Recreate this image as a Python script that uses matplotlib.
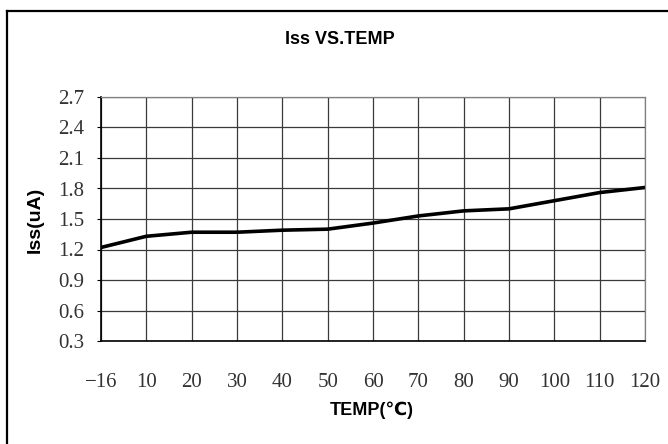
import matplotlib
matplotlib.use("Agg")
import matplotlib.pyplot as plt
from matplotlib.lines import Line2D

# data
temps = ["-16", "10", "20", "30", "40", "50", "60", "70", "80", "90", "100", "110", "120"]
iss = [1.22, 1.33, 1.37, 1.37, 1.39, 1.40, 1.46, 1.53, 1.58, 1.60, 1.68, 1.76, 1.81]
y_ticks = [0.3, 0.6, 0.9, 1.2, 1.5, 1.8, 2.1, 2.4, 2.7]

bold_font = ["Liberation Sans Narrow", "Liberation Sans", "DejaVu Sans", "Noto Sans CJK SC"]
tick_font = ["Liberation Serif", "DejaVu Serif"]

fig = plt.figure(figsize=(6.68, 4.44), dpi=100)
# outer frame: only top and left edges show in the picture
fx, fy = 6.5 / 668, 1 - 11 / 444
fig.lines.append(Line2D([fx, 1.0], [fy, fy], transform=fig.transFigure, color="black", linewidth=1.6))
fig.lines.append(Line2D([fx, fx], [0.0, fy], transform=fig.transFigure, color="black", linewidth=1.6))

ax = fig.add_axes([101 / 668, 103 / 444, 544 / 668, 244 / 444])
x = list(range(len(temps)))
ax.plot(x, iss, color="black", linewidth=2.6, solid_joinstyle="round")

ax.set_xlim(0, len(temps) - 1)
ax.set_ylim(0.3, 2.7)
ax.set_xticks(x)
ax.set_xticklabels(["\u221216"] + temps[1:])
ax.set_yticks(y_ticks)
ax.set_yticklabels(["%.1f" % v for v in y_ticks])

ax.grid(True, color="#3a3a3a", linewidth=0.9)
ax.set_axisbelow(True)
for s in ["top", "right"]:
    ax.spines[s].set_color("#808080")
    ax.spines[s].set_linewidth(0.9)
for s in ["left", "bottom"]:
    ax.spines[s].set_color("black")
    ax.spines[s].set_linewidth(1.2)

ax.tick_params(axis="y", direction="out", length=3, pad=9, colors="black", labelcolor="#333333")
ax.tick_params(axis="x", direction="in", length=0, pad=23, labelcolor="#333333")
for lab in ax.get_xticklabels() + ax.get_yticklabels():
    lab.set_family(tick_font)
    lab.set_fontsize(15)

fig.text(340 / 668, 1 - 40 / 444, "Iss VS.TEMP", ha="center", va="center",
         fontsize=13, fontweight="bold", family=bold_font)
fig.text(35 / 668, 1 - 220 / 444, "Iss(uA)", ha="center", va="center", rotation=90,
         fontsize=14, fontweight="bold", family=bold_font)
fig.text(372 / 668, 1 - 410 / 444, "TEMP(\u2103)", ha="center", va="center",
         fontsize=13, fontweight="bold", family=bold_font)

fig.savefig("out.png", dpi=100, facecolor="white")
